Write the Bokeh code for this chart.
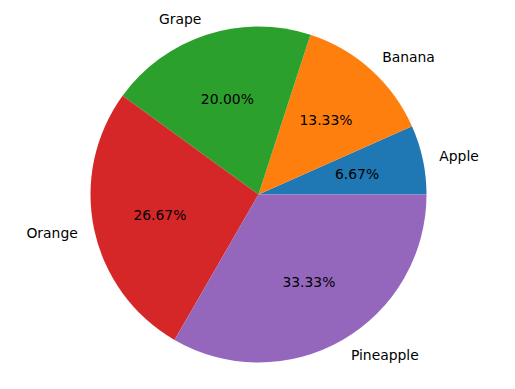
import math
from bokeh.plotting import figure
from bokeh.models import ColumnDataSource
from bokeh.core.properties import value
from bokeh.embed import file_html
from bokeh.resources import INLINE

labels = ["Apple", "Banana", "Grape", "Orange", "Pineapple"]
counts = [1, 2, 3, 4, 5]
colors = ["#1f77b4", "#ff7f0e", "#2ca02c", "#d62728", "#9467bd"]

W, H = 499, 373
cx, cy = 258, H - 194
R = 168

total = sum(counts)
starts, ends, pcts = [], [], []
acc = 0.0
for c in counts:
    starts.append(2 * math.pi * acc / total)
    acc += c
    ends.append(2 * math.pi * acc / total)
    pcts.append("%.2f%%" % (100.0 * c / total))
mids = [(s + e) / 2 for s, e in zip(starts, ends)]

src = ColumnDataSource(dict(start=starts, end=ends, color=colors))

p = figure(width=W, height=H, x_range=(0, W), y_range=(0, H),
           x_axis_type=None, y_axis_type=None, toolbar_location=None,
           output_backend="svg", min_border=0)
p.grid.visible = False
p.outline_line_color = None
p.background_fill_color = "white"

p.wedge(x=cx, y=cy, radius=R, start_angle="start", end_angle="end",
        fill_color="color", line_color=None, source=src)

lx = [cx + 1.1 * R * math.cos(m) for m in mids]
ly = [cy + 1.1 * R * math.sin(m) for m in mids]
align = ["left" if math.cos(m) > 0 else "right" for m in mids]
p.text(x=lx, y=ly, text=labels, text_align=align, text_baseline="middle",
       text_font=value("DejaVu Sans"), text_font_size="13.9px", text_color="black")

px = [cx + 0.6 * R * math.cos(m) for m in mids]
py = [cy + 0.6 * R * math.sin(m) for m in mids]
p.text(x=px, y=py, text=pcts, text_align="center", text_baseline="middle",
       text_font=value("DejaVu Sans"), text_font_size="13.9px", text_color="black")

open("out.html", "w").write(file_html(p, INLINE))
